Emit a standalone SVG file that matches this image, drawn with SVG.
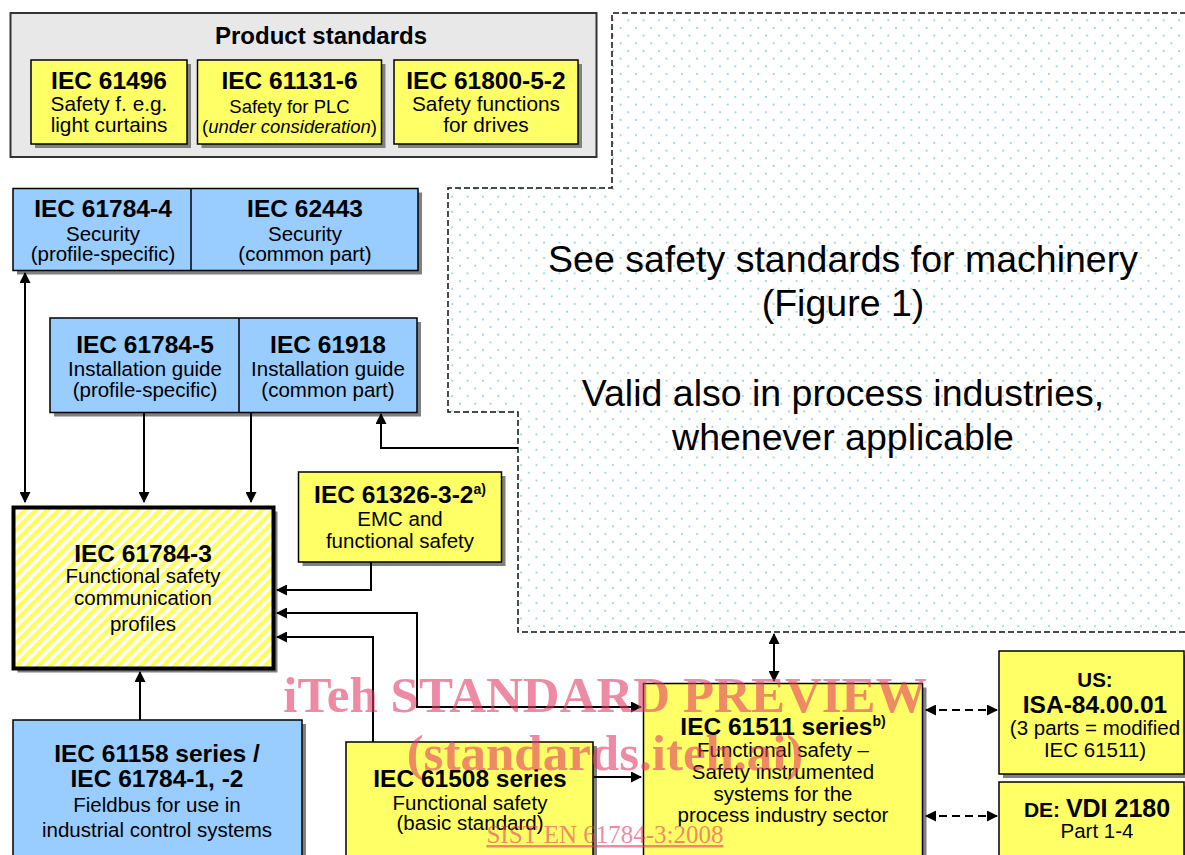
<svg xmlns="http://www.w3.org/2000/svg" width="1185" height="855" viewBox="0 0 1185 855">
<defs>
<style>
text{font-family:"Liberation Sans",Arial,sans-serif;text-anchor:middle;fill:#000}
.h{font-size:24.5px;font-weight:bold}
.b{font-size:20.5px}
.s{font-size:18.5px}
.big{font-size:37.5px}
.y{fill:#ffff66;stroke:#000;stroke-width:1.5}
.bl{fill:#99ccff;stroke:#000;stroke-width:1.5}
.sh{fill:#808080}
.c{fill:none;stroke:#000;stroke-width:2}
.d{stroke-dasharray:8 5}
.wm{font-family:"Liberation Serif","Times New Roman",serif;fill:#e23964;opacity:.58}
</style>
<marker id="ah" viewBox="0 0 11 11" refX="10" refY="5.5" markerWidth="11" markerHeight="11" markerUnits="userSpaceOnUse" orient="auto-start-reverse"><path d="M0,0L11,5.5L0,11z" fill="#000"/></marker>
<pattern id="dots" patternUnits="userSpaceOnUse" x="448.5" y="192.9" width="15.3" height="15.34"><circle cx="3.8" cy="3.8" r="1.05" fill="#98d4de"/><circle cx="11.45" cy="11.47" r="1.05" fill="#98d4de"/></pattern>
<pattern id="hatch" patternUnits="userSpaceOnUse" width="8" height="8" patternTransform="rotate(45)"><rect width="8" height="8" fill="#fff"/><rect width="4.2" height="8" fill="#ffff55"/></pattern>
</defs>
<rect width="1185" height="855" fill="#fff"/>

<g id="machinery-region">
<path d="M1195,13 L612,13 L612,188 L448,188 L448,412 L518,412 L518,632 L1195,632 Z" fill="url(#dots)" stroke="none"/>
<path d="M1195,13 L612,13 L612,188 L448,188 L448,412 L518,412 L518,632 L1195,632" fill="none" stroke="#111" stroke-width="1.5" stroke-dasharray="6 3"/>
<text class="big" x="843" y="272">See safety standards for machinery</text>
<text class="big" x="843" y="316">(Figure 1)</text>
<text class="big" x="843" y="406">Valid also in process industries,</text>
<text class="big" x="843" y="450">whenever applicable</text>
</g>

<g id="product-standards">
<rect x="10.5" y="13" width="586" height="144" fill="#e8e8e8" stroke="#333" stroke-width="2"/>
<text x="321" y="43.5" style="font-weight:bold;font-size:24px">Product standards</text>
</g>
<g id="iec61496">
<rect class="sh" x="35" y="64" width="156" height="84"/>
<rect class="y" x="31" y="60" width="156" height="84"/>
<text class="h" x="109" y="89">IEC 61496</text>
<text x="109" y="111" style="font-size:20.8px">Safety f. e.g.</text>
<text x="109" y="132" style="font-size:20.8px">light curtains</text>
</g>
<g id="iec61131-6">
<rect class="sh" x="201.5" y="64" width="184" height="84"/>
<rect class="y" x="197.5" y="60" width="184" height="84"/>
<text class="h" x="289.5" y="89">IEC 61131-6</text>
<text class="s" x="289.5" y="113">Safety for PLC</text>
<text class="s" x="289.5" y="133">(<tspan font-style="italic">under consideration</tspan>)</text>
</g>
<g id="iec61800-5-2">
<rect class="sh" x="398" y="64" width="184" height="84"/>
<rect class="y" x="394" y="60" width="184" height="84"/>
<text class="h" x="486" y="89">IEC 61800-5-2</text>
<text x="486" y="111" style="font-size:20.8px">Safety functions</text>
<text x="486" y="132" style="font-size:20.8px">for drives</text>
</g>

<g id="security">
<rect class="sh" x="17" y="192.5" width="405" height="82"/>
<rect class="bl" x="13" y="188.5" width="405" height="82"/>
<line x1="191" y1="188.5" x2="191" y2="270.5" stroke="#000" stroke-width="1.5"/>
</g>
<g id="iec61784-4">
<text class="h" x="103" y="217">IEC 61784-4</text>
<text class="b" x="103" y="241">Security</text>
<text class="b" x="103" y="261">(profile-specific)</text>
</g>
<g id="iec62443">
<text class="h" x="305" y="217">IEC 62443</text>
<text class="b" x="305" y="241">Security</text>
<text class="b" x="305" y="261">(common part)</text>
</g>

<g id="installation">
<rect class="sh" x="54" y="322" width="367" height="94.5"/>
<rect class="bl" x="50" y="318" width="367" height="94.5"/>
<line x1="239" y1="318" x2="239" y2="412.5" stroke="#000" stroke-width="1.5"/>
</g>
<g id="iec61784-5">
<text class="h" x="145" y="353">IEC 61784-5</text>
<text class="b" x="145" y="376">Installation guide</text>
<text class="b" x="145" y="397">(profile-specific)</text>
</g>
<g id="iec61918">
<text class="h" x="328" y="353">IEC 61918</text>
<text class="b" x="328" y="376">Installation guide</text>
<text class="b" x="328" y="397">(common part)</text>
</g>

<g id="iec61784-3">
<rect class="sh" x="17.5" y="511.5" width="260" height="161"/>
<rect x="13.5" y="507.5" width="260" height="161" fill="url(#hatch)" stroke="#000" stroke-width="4"/>
<text class="h" x="143" y="562">IEC 61784-3</text>
<text class="b" x="143" y="583">Functional safety</text>
<text class="b" x="143" y="605">communication</text>
<text class="b" x="143" y="631">profiles</text>
</g>

<g id="iec61326-3-2">
<rect class="sh" x="302.5" y="476" width="203" height="90"/>
<rect class="y" x="298.5" y="472" width="203" height="90"/>
<text class="h" x="400" y="503">IEC 61326-3-2<tspan dy="-9" font-size="14">a)</tspan></text>
<text class="b" x="400" y="526">EMC and</text>
<text class="b" x="400" y="548">functional safety</text>
</g>

<g id="iec61158">
<rect class="sh" x="17" y="724" width="289" height="140"/>
<rect class="bl" x="13" y="720" width="289" height="140"/>
<text class="h" x="157" y="762">IEC 61158 series /</text>
<text class="h" x="157" y="787">IEC 61784-1, -2</text>
<text class="b" x="157" y="812">Fieldbus for use in</text>
<text class="b" x="157" y="837">industrial control systems</text>
</g>

<g id="iec61508">
<rect class="sh" x="350" y="746" width="247" height="120"/>
<rect class="y" x="346" y="742" width="247" height="120"/>
<text class="h" x="470" y="787">IEC 61508 series</text>
<text class="b" x="470" y="810">Functional safety</text>
<text class="b" x="470" y="830">(basic standard)</text>
</g>

<g id="iec61511">
<rect class="sh" x="647.5" y="687.5" width="279" height="180"/>
<rect class="y" x="643.5" y="683.5" width="279" height="180"/>
<text class="h" x="783" y="735">IEC 61511 series<tspan dy="-9" font-size="14">b)</tspan></text>
<text class="b" x="783" y="757">Functional safety –</text>
<text class="b" x="783" y="779">Safety instrumented</text>
<text class="b" x="783" y="801">systems for the</text>
<text class="b" x="783" y="822">process industry sector</text>
</g>

<g id="us-isa">
<rect class="sh" x="1003" y="655" width="185" height="123"/>
<rect class="y" x="999" y="651" width="185" height="123"/>
<text x="1095" y="687" style="font-weight:bold;font-size:20.5px">US:</text>
<text class="h" x="1095" y="713">ISA-84.00.01</text>
<text class="b" x="1095" y="735">(3 parts = modified</text>
<text class="b" x="1095" y="757">IEC 61511)</text>
</g>

<g id="de-vdi">
<rect class="sh" x="1003" y="786" width="185" height="100"/>
<rect class="y" x="999" y="782" width="185" height="100"/>
<text x="1097" y="817" style="font-weight:bold"><tspan font-size="21">DE: </tspan><tspan font-size="25">VDI 2180</tspan></text>
<text class="b" x="1097" y="838">Part 1-4</text>
</g>

<g id="connectors">
<path class="c" d="M25,502 L25,273" marker-start="url(#ah)" marker-end="url(#ah)"/>
<path class="c" d="M144,412 L144,502" marker-end="url(#ah)"/>
<path class="c" d="M251,412 L251,502" marker-end="url(#ah)"/>
<path class="c" d="M518,448 L381,448 L381,414" marker-end="url(#ah)"/>
<path class="c" d="M371,562 L371,590 L277,590" marker-end="url(#ah)"/>
<path class="c" d="M641,707 L417,707 L417,613 L277,613" marker-start="url(#ah)" marker-end="url(#ah)"/>
<path class="c" d="M373,742 L373,637 L277,637" marker-end="url(#ah)"/>
<path class="c" d="M594,777 L641,777" marker-end="url(#ah)"/>
<path class="c" d="M140,720 L140,672" marker-end="url(#ah)"/>
<path class="c" d="M774,634 L774,681" marker-start="url(#ah)" marker-end="url(#ah)"/>
<path class="c d" d="M926,710 L997,710" marker-start="url(#ah)" marker-end="url(#ah)"/>
<path class="c d" d="M926,816 L997,816" marker-start="url(#ah)" marker-end="url(#ah)"/>
</g>

<g id="watermark">
<text class="wm" x="605" y="712" font-size="51" font-weight="bold">iTeh STANDARD PREVIEW</text>
<text class="wm" x="605" y="770" font-size="51" font-weight="bold">(standards.iteh.ai)</text>
<text class="wm" x="605" y="843" font-size="25" text-decoration="underline">SIST EN 61784-3:2008</text>
</g>
</svg>
